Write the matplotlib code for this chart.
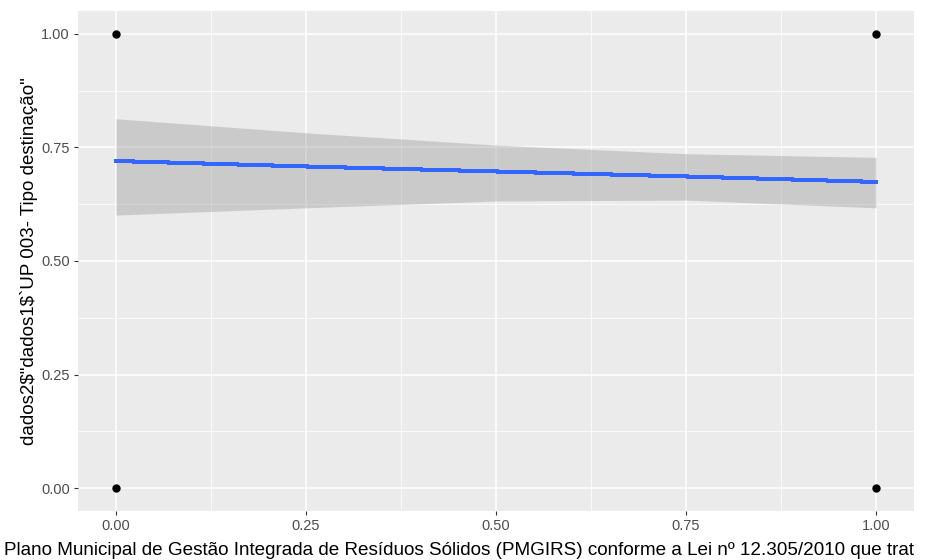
import matplotlib
matplotlib.use("Agg")
from matplotlib import pyplot as plt
from matplotlib.ticker import MultipleLocator
import numpy as np

# observed points (binary response)
pts_x = [0, 0, 1, 1]
pts_y = [0, 1, 0, 1]

# fitted curve and confidence band
fit_x = [0.0, 0.25, 0.5, 0.75, 1.0]
fit_y = [0.720, 0.708, 0.697, 0.686, 0.674]
fit_lo = [0.601, 0.617, 0.632, 0.634, 0.617]
fit_hi = [0.813, 0.782, 0.755, 0.736, 0.728]

xticks = [0.0, 0.25, 0.5, 0.75, 1.0]
yticks = [0.0, 0.25, 0.5, 0.75, 1.0]

xlabel = "Plano Municipal de Gestão Integrada de Resíduos Sólidos (PMGIRS) conforme a Lei nº 12.305/2010 que trat"
ylabel = 'dados2$"dados1$`UP 003- Tipo destinação"'

plt.rcParams['font.family'] = ['Liberation Sans', 'DejaVu Sans']
plt.rcParams['text.parse_math'] = False

fig = plt.figure(figsize=(9.26, 5.6), dpi=100)
ax = fig.add_axes([78/926, 1-511/560, (914-78)/926, (511-11)/560])
ax.set_facecolor('#EBEBEB')
for s in ax.spines.values():
  s.set_visible(False)

ax.set_xlim(-0.05, 1.05)
ax.set_ylim(-0.05, 1.05)
ax.set_xticks(xticks)
ax.set_yticks(yticks)
ax.set_xticklabels(["%.2f" % v for v in xticks])
ax.set_yticklabels(["%.2f" % v for v in yticks])
ax.xaxis.set_minor_locator(MultipleLocator(0.125))
ax.yaxis.set_minor_locator(MultipleLocator(0.125))
ax.grid(which='major', color='white', linewidth=1.1)
ax.grid(which='minor', color='white', linewidth=0.55)
ax.set_axisbelow(True)
ax.tick_params(which='major', length=3, width=0.8, color='#333333', labelcolor='#4D4D4D', labelsize=10.5, pad=3)
ax.tick_params(which='minor', length=0)

ax.fill_between(fit_x, fit_lo, fit_hi, color='#999999', alpha=0.4, linewidth=0, antialiased=False, zorder=2)
ax.plot(fit_x, fit_y, color='#3366FF', linewidth=2.2, antialiased=False, zorder=3)
ax.plot(pts_x, pts_y, 'o', color='black', markersize=5, zorder=4)

ax.set_ylabel(ylabel, fontsize=13.5, color='black', labelpad=2)
fig.text(4/926, 1/560, xlabel, fontsize=13.6, color='black', ha='left', va='bottom')

fig.savefig("out.png", dpi=100)
